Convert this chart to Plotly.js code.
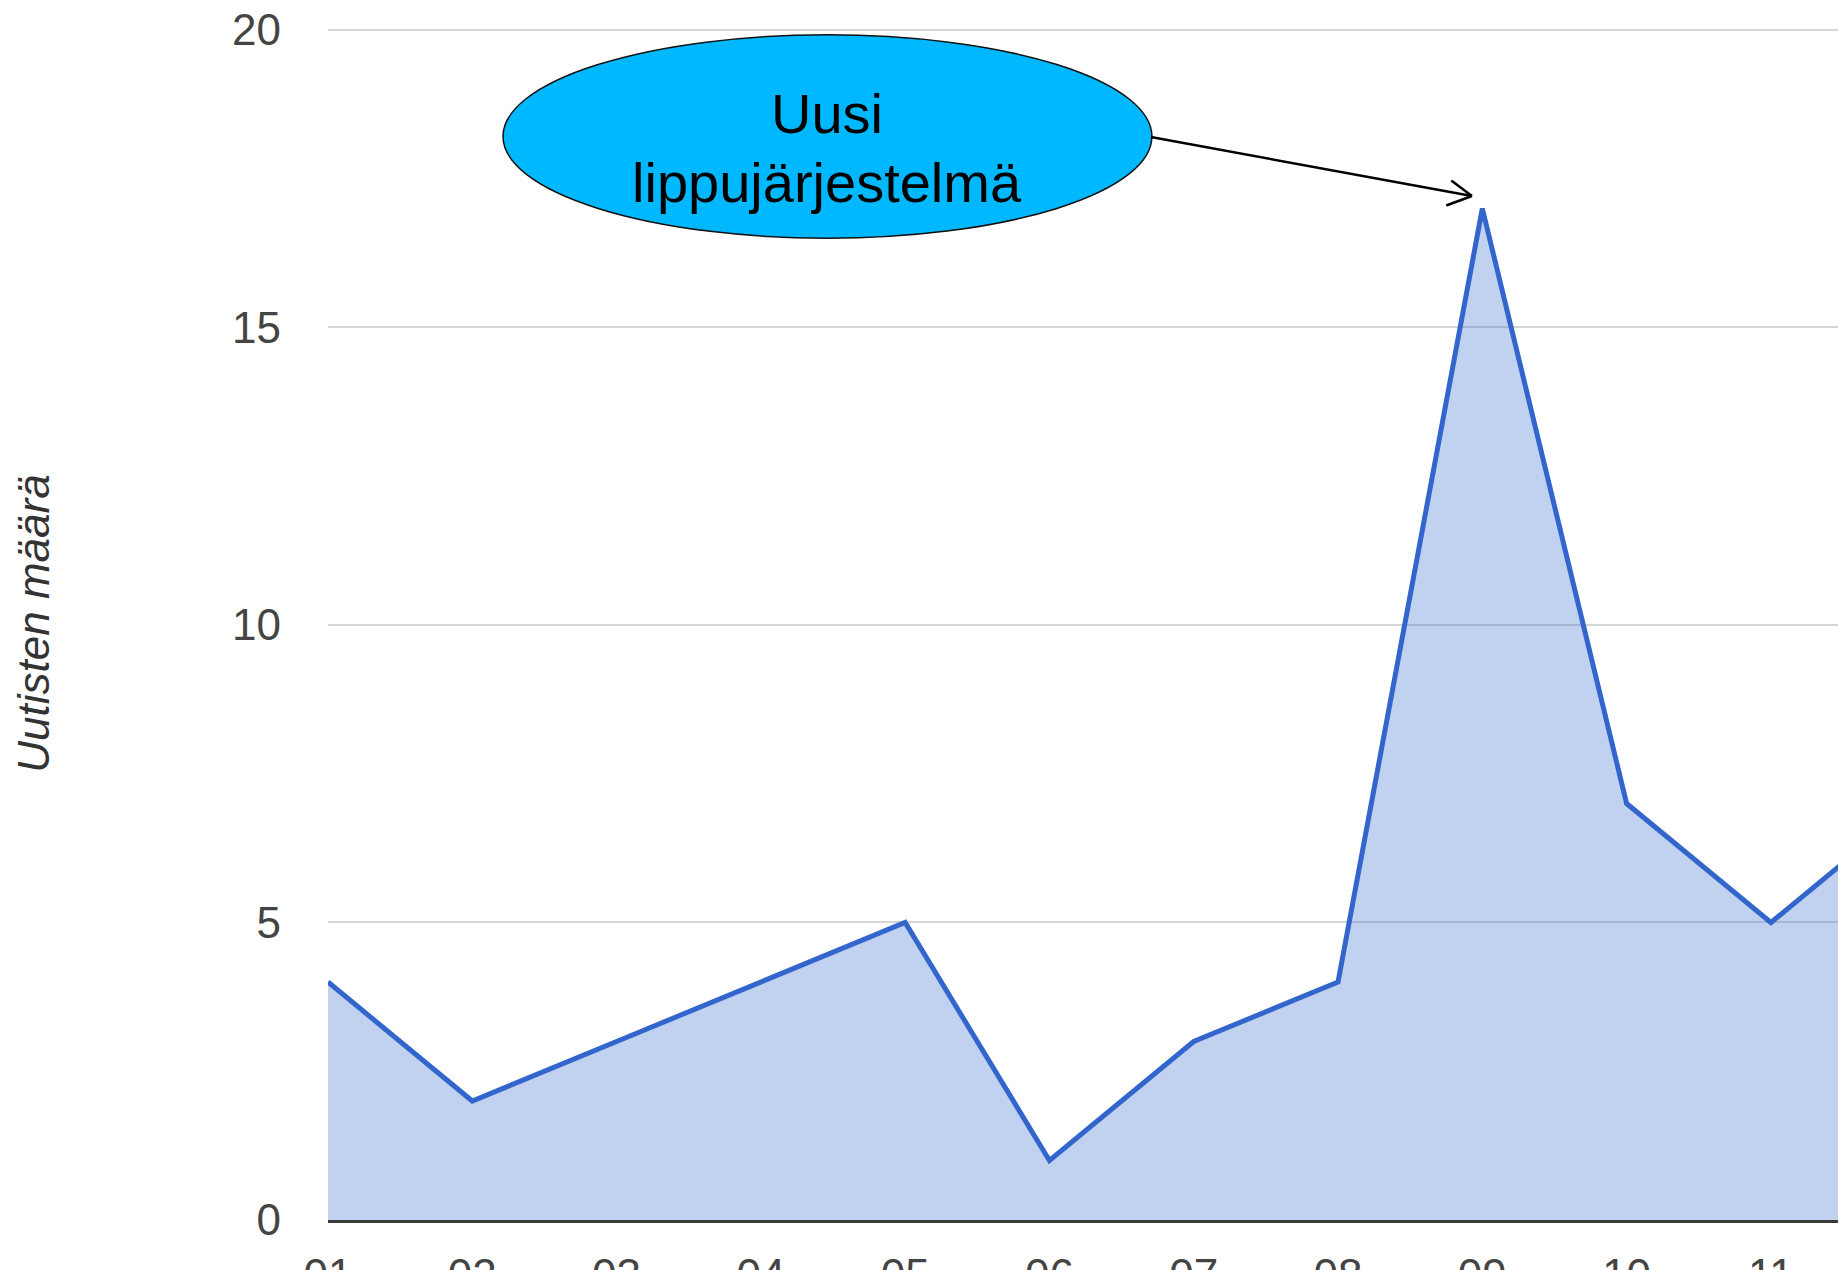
<!DOCTYPE html>
<html>
<head>
<meta charset="utf-8">
<script src="https://cdn.plot.ly/plotly-3.0.1.min.js"></script>
<style>
html,body{margin:0;padding:0;background:#fff;overflow:hidden;}
#chart{width:1838px;height:1270px;}
</style>
</head>
<body>
<div id="chart"></div>
<script>
// Data
const months = ["01","02","03","04","05","06","07","08","09","10","11","12"];
const newsCounts = [4, 2, 3, 4, 5, 1, 3, 4, 17, 7, 5, 7];
const yTicks = [0, 5, 10, 15, 20];
const yAxisTitle = "Uutisten määrä";
const calloutLines = ["Uusi", "lippujärjestelmä"];

const FONT = "Liberation Sans, Arial, sans-serif";

const trace = {
  type: "scatter",
  mode: "lines",
  x: months,
  y: newsCounts,
  fill: "tozeroy",
  fillcolor: "rgba(51,102,204,0.3)",
  line: {color: "#3366CC", width: 5},
  hoverinfo: "x+y"
};

const layout = {
  width: 1838,
  height: 1270,
  margin: {l: 328, r: 0, t: 27, b: 50, pad: 0},
  paper_bgcolor: "#ffffff",
  plot_bgcolor: "#ffffff",
  showlegend: false,
  font: {family: FONT, color: "#444"},
  xaxis: {
    type: "category",
    range: [0, 10.465],
    showgrid: false,
    zeroline: false,
    showline: true,
    linecolor: "#3a3a3a",
    linewidth: 3,
    ticks: "",
    ticklabelstandoff: 14,
    tickfont: {family: FONT, size: 44, color: "#444"},
    fixedrange: true
  },
  yaxis: {
    range: [0, 20.05],
    tickvals: yTicks,
    ticktext: yTicks.map(String),
    showgrid: true,
    gridcolor: "#d6d6d6",
    gridwidth: 2,
    zeroline: false,
    showline: false,
    ticks: "",
    ticklabelstandoff: 46,
    tickfont: {family: FONT, size: 44, color: "#444"},
    automargin: false,
    title: {
      text: yAxisTitle,
      standoff: 168,
      font: {family: FONT, size: 44, color: "#333", style: "italic"}
    },
    fixedrange: true
  },
  shapes: [
    {
      type: "circle", xref: "x", yref: "y",
      x0: 1.213, x1: 5.710, y0: 16.50, y1: 19.92,
      fillcolor: "#00B8FF",
      line: {color: "#111", width: 1.5},
      layer: "above"
    },
    {
      type: "line", xref: "x", yref: "y",
      x0: 5.703, y0: 18.20, x1: 7.928, y1: 17.21,
      line: {color: "#000", width: 2.5}, layer: "above"
    },
    {
      type: "line", xref: "x", yref: "y",
      x0: 7.785, y0: 17.47, x1: 7.928, y1: 17.21,
      line: {color: "#000", width: 2.5}, layer: "above"
    },
    {
      type: "line", xref: "x", yref: "y",
      x0: 7.750, y0: 17.05, x1: 7.928, y1: 17.21,
      line: {color: "#000", width: 2.5}, layer: "above"
    }
  ],
  annotations: [
    {
      xref: "x", yref: "y", x: 3.458, y: 18.595,
      text: calloutLines[0], showarrow: false,
      xanchor: "center", yanchor: "middle",
      font: {family: FONT, size: 56, color: "#000"}
    },
    {
      xref: "x", yref: "y", x: 3.458, y: 17.44,
      text: calloutLines[1], showarrow: false,
      xanchor: "center", yanchor: "middle",
      font: {family: FONT, size: 56, color: "#000"}
    }
  ]
};

Plotly.newPlot("chart", [trace], layout, {displayModeBar: false, staticPlot: true});
</script>
</body>
</html>
